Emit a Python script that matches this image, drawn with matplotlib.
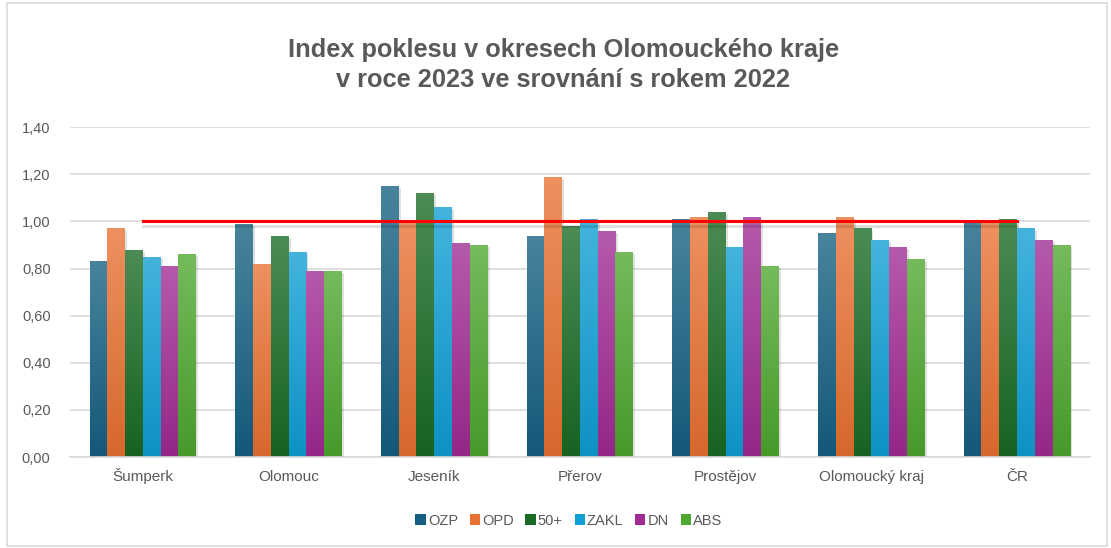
import numpy as np
import matplotlib.pyplot as plt
import matplotlib.colors as mcolors
import matplotlib.patheffects as pe
from matplotlib.patches import Rectangle

# okresy a ukazatele
okresy = ['Šumperk', 'Olomouc', 'Jeseník', 'Přerov', 'Prostějov', 'Olomoucký kraj', 'ČR']
ukazatele = ['OZP', 'OPD', '50+', 'ZAKL', 'DN', 'ABS']
barvy = ['#156082', '#E97132', '#196B24', '#0F9ED5', '#A02B93', '#4EA72E']

ozp = [0.83, 0.99, 1.15, 0.94, 1.01, 0.95, 1.00]
opd = [0.97, 0.82, 1.00, 1.19, 1.02, 1.02, 1.00]
padesat = [0.88, 0.94, 1.12, 0.98, 1.04, 0.97, 1.01]
zakl = [0.85, 0.87, 1.06, 1.01, 0.89, 0.92, 0.97]
dn = [0.81, 0.79, 0.91, 0.96, 1.02, 0.89, 0.92]
abs_ = [0.86, 0.79, 0.90, 0.87, 0.81, 0.84, 0.90]
hranice = [1.00] * len(okresy)

serie = [ozp, opd, padesat, zakl, dn, abs_]

plt.rcParams['font.family'] = ['Liberation Sans', 'DejaVu Sans']

fig = plt.figure(figsize=(11.11, 5.48), dpi=100)
fig.patches.append(Rectangle((0.006, 0.004), 0.99, 0.99, transform=fig.transFigure,
                             fill=False, edgecolor='#d9d9d9', linewidth=1.2))
ax = fig.add_axes([0.063, 0.166, 0.918, 0.602])

x = np.arange(len(okresy))
sirka = 0.122
stin = [pe.SimplePatchShadow(offset=(1.5, -1.5), alpha=0.12, shadow_rgbFace='#000000'), pe.Normal()]


def prechod(barva):
    # svislý přechod: nahoře světlejší, dole tmavší
    c = np.array(mcolors.to_rgb(barva))
    horni = c + (1 - c) * 0.22
    dolni = c * 0.92
    t = np.linspace(0, 1, 64)[:, None]
    return dolni * (1 - t) + horni * t


vsechny_sloupce = []
for i, (nazev, hodnoty) in enumerate(zip(ukazatele, serie)):
    pos = x + (i - 2.5) * sirka
    bars = ax.bar(pos, hodnoty, sirka, color=barvy[i], label=nazev, zorder=2)
    grad = prechod(barvy[i])[:, None, :]
    for p in bars:
        vsechny_sloupce.append(p)
        im = ax.imshow(grad, extent=[p.get_x(), p.get_x() + p.get_width(), 0, p.get_height()],
                       origin='lower', aspect='auto', zorder=2.5, interpolation='bilinear')
        im.set_clip_path(p)

ax.plot(x, hranice, color='#ff0000', linewidth=2.2, zorder=4,
        path_effects=[pe.SimpleLineShadow(offset=(0, -3), alpha=0.12, shadow_color='#000000'), pe.Normal()])

ax.set_xlim(-0.5, len(okresy) - 0.5)
ax.set_ylim(0, 1.4)
ax.set_yticks(np.arange(0, 1.41, 0.2))
ax.set_yticklabels([f'{v:.2f}'.replace('.', ',') for v in np.arange(0, 1.41, 0.2)])
ax.set_xticks(x)
ax.set_xticklabels(okresy)
ax.tick_params(axis='both', length=0, colors='#595959')
ax.tick_params(axis='x', labelsize=11, pad=17)
ax.tick_params(axis='y', labelsize=10.5, pad=14)
for lab in ax.get_xticklabels():
    lab.set_va('baseline')
ax.grid(axis='y', color='#d9d9d9', linewidth=1.2, zorder=0)
ax.set_axisbelow(True)
for s in ['top', 'right', 'left']:
    ax.spines[s].set_visible(False)
ax.spines['bottom'].set_color('#d9d9d9')
ax.spines['bottom'].set_linewidth(1.2)

fig.text(0.507, 0.881, 'Index poklesu v okresech Olomouckého kraje\nv roce 2023 ve srovnání s rokem 2022',
         ha='center', va='center', fontsize=18.3, fontweight='bold', color='#595959', linespacing=1.3)

leg = fig.legend(loc='center', bbox_to_anchor=(0.512, 0.05), ncol=6, frameon=False,
                 fontsize=10.5, handlelength=0.7, handleheight=0.7, handletextpad=0.15, columnspacing=0.8)
for t in leg.get_texts():
    t.set_color('#595959')

# stín až po vytvoření legendy, aby se nepřenesl do značek
for p in vsechny_sloupce:
    p.set_path_effects(stin)

fig.savefig('out.png', dpi=100)
